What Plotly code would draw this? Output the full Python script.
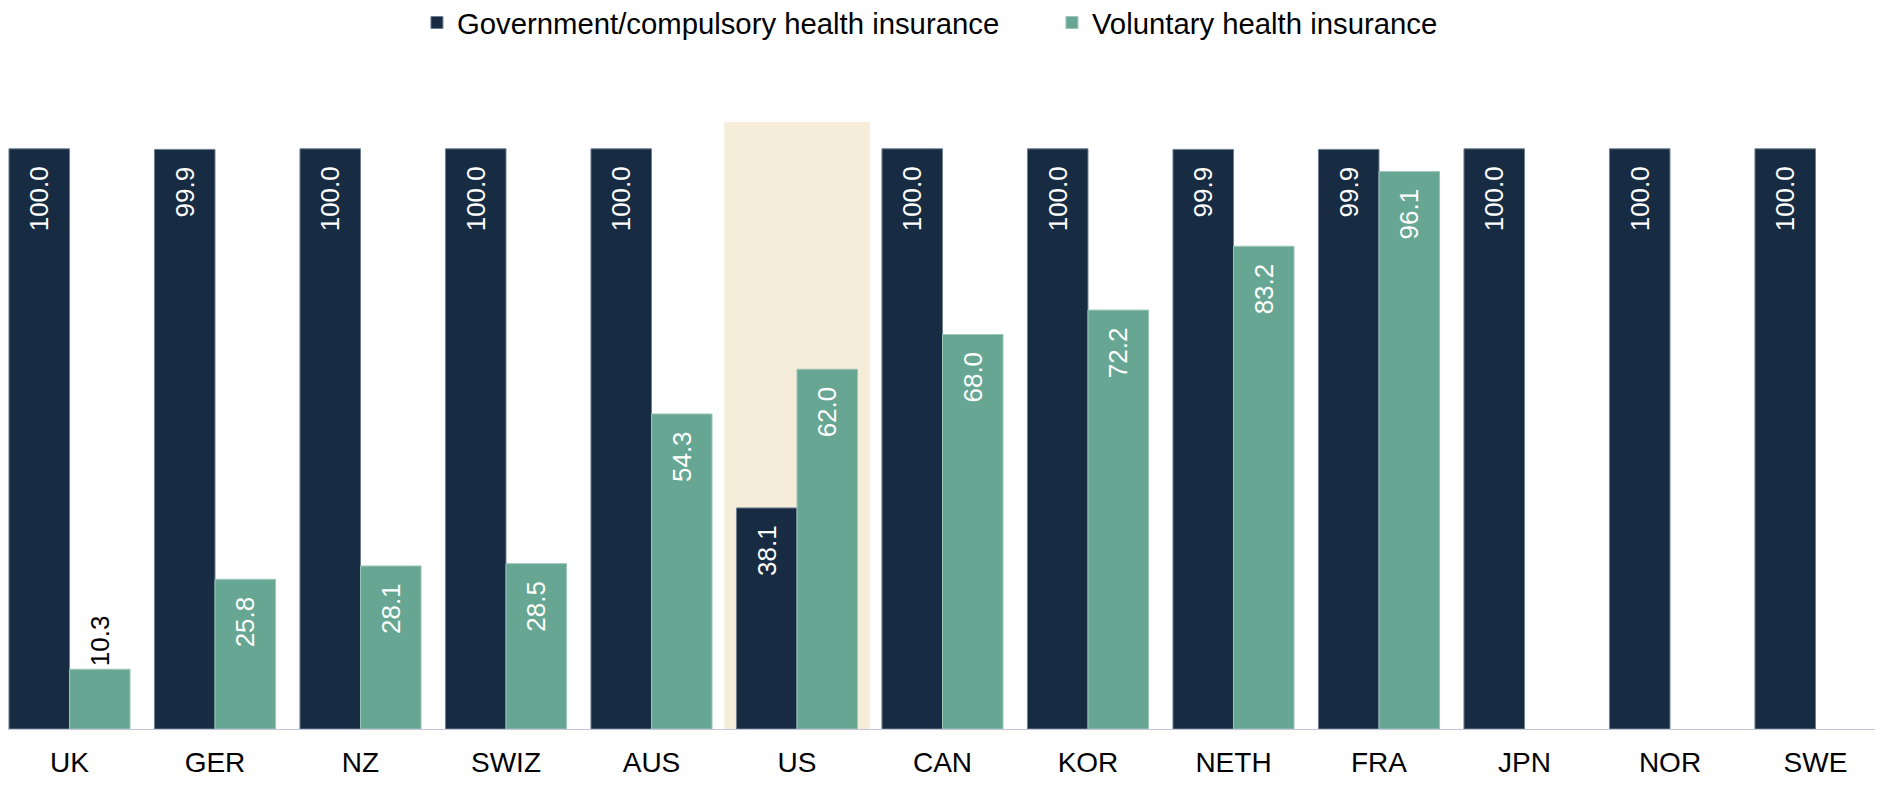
import plotly.graph_objects as go

countries = ["UK", "GER", "NZ", "SWIZ", "AUS", "US", "CAN", "KOR", "NETH", "FRA", "JPN", "NOR", "SWE"]
gov = [100.0, 99.9, 100.0, 100.0, 100.0, 38.1, 100.0, 100.0, 99.9, 99.9, 100.0, 100.0, 100.0]
vol = [10.3, 25.8, 28.1, 28.5, 54.3, 62.0, 68.0, 72.2, 83.2, 96.1, None, None, None]
highlight = "US"

NAVY = "#172b42"
TEAL = "#66a692"
FONT = "Liberation Sans, Arial, sans-serif"
PAD = "\u00a0\u00a0"

def is_out(v):
    return v is not None and v < 20

def fmt(v):
    if v is None:
        return ""
    return f"{v:.1f}" if is_out(v) else f"{v:.1f}{PAD}"

def positions(vals):
    return ["outside" if is_out(v) else "inside" for v in vals]

def colors(vals):
    return ["#000000" if is_out(v) else "#ffffff" for v in vals]

fig = go.Figure()
fig.add_trace(go.Bar(
    name="Government/compulsory health insurance",
    x=countries, y=gov, marker=dict(color=NAVY, line=dict(color="#6f7f92", width=1)),
    text=[fmt(v) for v in gov], textposition=positions(gov), textangle=-90,
    insidetextanchor="end", cliponaxis=False, constraintext="none",
    textfont=dict(family=FONT, size=26, color=colors(gov)),
))
fig.add_trace(go.Bar(
    name="Voluntary health insurance",
    x=countries, y=vol, marker=dict(color=TEAL, line=dict(color="#9cc7b9", width=1)),
    text=[fmt(v) for v in vol], textposition=positions(vol), textangle=-90,
    insidetextanchor="end", cliponaxis=False, constraintext="none",
    textfont=dict(family=FONT, size=26, color=colors(vol)),
))

hi = countries.index(highlight)
fig.add_shape(type="rect", xref="x", yref="y", x0=hi - 0.5, x1=hi + 0.5, y0=-12.5, y1=104.6,
              fillcolor="#f5ecda", line=dict(width=0), layer="below")

fig.update_layout(
    width=1875, height=793,
    margin=dict(l=0, r=0, t=106, b=72, autoexpand=False),
    paper_bgcolor="white", plot_bgcolor="white",
    barmode="group", bargap=0.168, bargroupgap=0,
    font=dict(family=FONT, size=28, color="#000000"),
    legend=dict(orientation="h", x=0.2181, xanchor="left", y=1.148, yref="paper", yanchor="middle",
                font=dict(family=FONT, size=29.3, color="#000000"),
                entrywidth=590, entrywidthmode="pixels", traceorder="normal"),
    xaxis=dict(range=[-0.4227, 12.464], showline=True, linecolor="#c5c5dd", linewidth=1,
               automargin=False, ticks="", ticklabelstandoff=8, showgrid=False,
               tickfont=dict(family=FONT, size=28, color="#000000")),
    yaxis=dict(range=[0, 106], visible=False, showgrid=False, zeroline=False, automargin=False),
)

fig.write_html("out.html")
